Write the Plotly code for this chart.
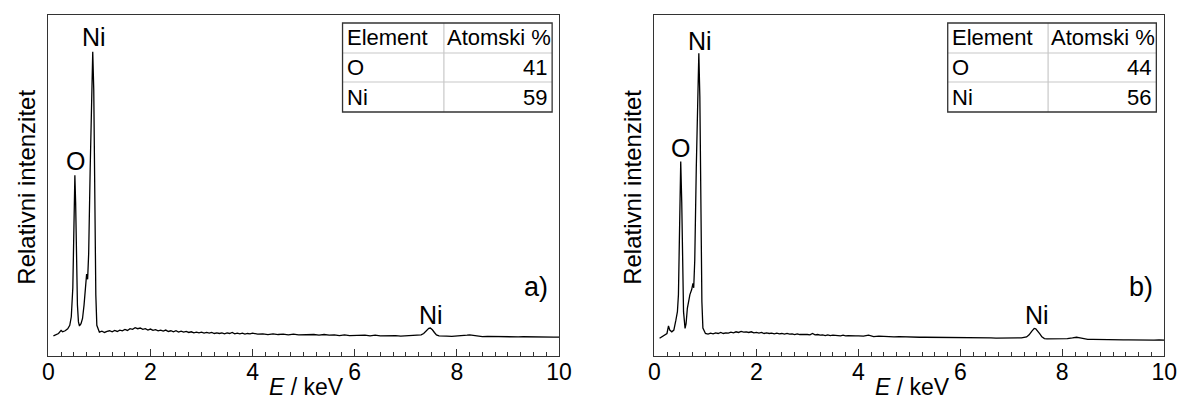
import plotly.graph_objects as go

# ---------------- data ----------------
energy_a = [0.10, 0.15, 0.20, 0.25, 0.28, 0.33, 0.38, 0.42, 0.45, 0.48, 0.50, 0.52, 0.535, 0.55, 0.57,
            0.59, 0.61, 0.64, 0.67, 0.70, 0.73, 0.75, 0.77, 0.79, 0.82, 0.85, 0.87, 0.89, 0.91, 0.93,
            0.95, 0.98,
            1.00, 1.05, 1.10, 1.15, 1.20, 1.25, 1.30, 1.35, 1.40, 1.45, 1.50, 1.55, 1.60, 1.65, 1.70,
            1.75, 1.80, 1.85, 1.90, 1.95, 2.00, 2.05, 2.10, 2.15, 2.20, 2.25, 2.30, 2.35, 2.40, 2.45,
            2.50, 2.55, 2.60, 2.65, 2.70, 2.75, 2.80, 2.85, 2.90, 2.95, 3.00, 3.05, 3.10, 3.15, 3.20,
            3.25, 3.30, 3.35, 3.40, 3.45, 3.50, 3.55, 3.60, 3.65, 3.70, 3.75, 3.80, 3.85, 3.90, 3.95,
            4.00, 4.1, 4.2, 4.3, 4.4, 4.5, 4.6, 4.7, 4.8, 4.9, 5.0, 5.1, 5.2, 5.3, 5.4, 5.5, 5.6, 5.7,
            5.8, 5.9, 6.0, 6.1, 6.2, 6.3, 6.4, 6.5, 6.6, 6.7, 6.8, 6.9, 7.0, 7.1, 7.2, 7.3, 7.35, 7.40,
            7.45, 7.48, 7.52, 7.56, 7.60, 7.65, 7.7, 7.8, 7.9, 8.0, 8.1, 8.2, 8.25, 8.3, 8.4, 8.5, 8.6,
            8.7, 8.8, 8.9, 9.0, 9.1, 9.2, 9.3, 9.4, 9.5, 9.6, 9.7, 9.8, 9.9, 10.0]
intensity_a = [5.9, 6.3, 6.6, 7.5, 7.1, 7.4, 8.0, 9.0, 11.5, 20.0, 38.0, 53.0, 45.0, 28.0, 15.0,
               10.0, 8.8, 9.5, 11.0, 15.0, 22.0, 24.0, 22.5, 30.0, 55.0, 80.0, 89.2, 78.0, 45.0, 18.0,
               9.0, 7.3,
               7.0, 7.3, 6.9, 7.2, 7.4, 7.1, 7.5, 7.2, 7.6, 7.4, 7.8, 7.5, 8.0, 7.8, 8.3,
               8.0, 8.2, 7.8, 8.0, 7.6, 7.9, 7.5, 7.7, 7.4, 7.6, 7.3, 7.6, 7.2, 7.4, 7.1,
               7.4, 7.0, 7.3, 7.0, 7.2, 6.9, 7.1, 6.8, 7.0, 6.8, 7.0, 6.7, 6.9, 6.7, 6.9,
               6.6, 6.8, 6.6, 6.8, 6.5, 6.8, 6.6, 6.9, 6.5, 6.7, 6.5, 6.7, 6.4, 6.6, 6.5,
               6.7, 6.4, 6.5, 6.3, 6.5, 6.3, 6.4, 6.2, 6.4, 6.2, 6.3, 6.2, 6.3, 6.1, 6.3, 6.1, 6.2, 6.0,
               6.2, 6.0, 6.1, 6.0, 6.1, 5.9, 6.1, 5.9, 6.0, 5.9, 6.0, 5.8, 5.9, 5.9, 6.0, 6.2, 6.6, 7.4,
               8.1, 8.2, 7.7, 6.9, 6.2, 5.9, 5.8, 5.8, 5.75, 5.8, 5.9, 6.1, 6.2, 6.1, 5.85, 5.7, 5.75,
               5.7, 5.7, 5.65, 5.7, 5.65, 5.6, 5.65, 5.6, 5.6, 5.6, 5.55, 5.6, 5.55, 5.55]

energy_b = [0.10, 0.15, 0.20, 0.245, 0.275, 0.30, 0.34, 0.38, 0.42, 0.45, 0.47, 0.49, 0.515, 0.535,
            0.55, 0.57, 0.60, 0.62, 0.645, 0.67, 0.695, 0.73, 0.755, 0.77, 0.79, 0.82, 0.85, 0.87,
            0.89, 0.91, 0.93, 0.95, 0.98,
            1.00, 1.05, 1.10, 1.15, 1.20, 1.25, 1.30, 1.35, 1.40, 1.45, 1.50, 1.55, 1.60, 1.65, 1.70,
            1.75, 1.80, 1.85, 1.90, 1.95, 2.00, 2.05, 2.10, 2.15, 2.20, 2.25, 2.30, 2.35, 2.40, 2.45,
            2.50, 2.55, 2.60, 2.65, 2.70, 2.75, 2.80, 2.85, 2.90, 2.95, 3.00, 3.05, 3.10, 3.15, 3.20,
            3.25, 3.30, 3.35, 3.40, 3.45, 3.50, 3.55, 3.60, 3.65, 3.70, 3.75, 3.80, 3.85, 3.90, 3.95,
            4.00, 4.1, 4.2, 4.3, 4.4, 4.5, 4.6, 4.7, 4.8, 4.9, 5.0, 5.1, 5.2, 5.3, 5.4, 5.5, 5.6, 5.7,
            5.8, 5.9, 6.0, 6.1, 6.2, 6.3, 6.4, 6.5, 6.6, 6.7, 6.8, 6.9, 7.0, 7.1, 7.2, 7.3, 7.35, 7.40,
            7.45, 7.48, 7.52, 7.56, 7.60, 7.65, 7.7, 7.8, 7.9, 8.0, 8.1, 8.2, 8.28, 8.35, 8.4, 8.5, 8.6,
            8.7, 8.8, 8.9, 9.0, 9.1, 9.2, 9.3, 9.4, 9.5, 9.6, 9.7, 9.8, 9.9, 10.0]
intensity_b = [5.2, 5.6, 6.0, 6.6, 8.8, 7.6, 7.1, 7.6, 10.5, 13.0, 18.0, 32.0, 57.0, 45.0,
               25.0, 13.0, 8.1, 9.5, 14.0, 16.0, 18.0, 19.5, 21.3, 20.0, 28.0, 55.0, 80.0, 88.8,
               76.0, 42.0, 16.0, 8.2, 6.9,
               6.6, 6.4, 6.7, 6.5, 6.8, 6.6, 6.9, 6.6, 6.8, 6.7, 7.0, 6.8, 7.1, 6.9, 7.2,
               7.0, 7.1, 6.9, 7.1, 6.8, 6.9, 6.7, 6.9, 6.6, 6.8, 6.6, 6.7, 6.5, 6.7, 6.5,
               6.6, 6.4, 6.6, 6.4, 6.5, 6.3, 6.5, 6.3, 6.4, 6.3, 6.3, 6.2, 6.6, 6.2, 6.3,
               6.1, 6.2, 6.0, 6.2, 6.0, 6.1, 6.0, 6.1, 5.9, 6.1, 5.9, 6.0, 5.9, 6.0, 5.9,
               5.9, 5.8, 6.1, 5.7, 5.8, 5.7, 5.7, 5.6, 5.7, 5.6, 5.6, 5.6, 5.5, 5.5, 5.5, 5.4, 5.5, 5.4,
               5.4, 5.4, 5.35, 5.4, 5.3, 5.35, 5.3, 5.3, 5.3, 5.25, 5.3, 5.25, 5.25, 5.25, 5.3, 5.6, 6.2, 7.2,
               8.1, 8.0, 7.4, 6.5, 5.6, 5.1, 5.0, 5.0, 4.95, 5.0, 5.1, 5.3, 5.5, 5.3, 5.1, 4.9, 4.85,
               4.8, 4.8, 4.75, 4.8, 4.75, 4.7, 4.75, 4.7, 4.7, 4.7, 4.7, 4.65, 4.7, 4.65]

table_header = ["Element", "Atomski %"]
table_elements = ["O", "Ni"]
atomic_pct_a = [41, 59]
atomic_pct_b = [44, 56]

peak_labels = ["O", "Ni", "Ni"]
peak_label_x_a = [0.53, 0.90, 7.50]
peak_label_y_a = [57.2, 93.5, 12.0]
peak_label_x_b = [0.52, 0.89, 7.50]
peak_label_y_b = [61.0, 92.4, 12.0]
panel_names = ["a)", "b)"]

# ---------------- layout helpers ----------------
W, H = 1190, 401
FONT = "Arial, Liberation Sans, Helvetica, sans-serif"


def px(x):
    return x / W


def py(y):
    return 1 - y / H


panels = [
    dict(xa="x", ya="y", xl=43, xr=562, E=energy_a, I=intensity_a, pct=atomic_pct_a,
         lx=peak_label_x_a, ly=peak_label_y_a, name=panel_names[0], tab=(342, 445, 555)),
    dict(xa="x2", ya="y2", xl=659, xr=1177, E=energy_b, I=intensity_b, pct=atomic_pct_b,
         lx=peak_label_x_b, ly=peak_label_y_b, name=panel_names[1], tab=(957, 1059, 1169)),
]
TOP, BOT = 15, 356

fig = go.Figure()
annotations = []
shapes = []

for i, p in enumerate(panels):
    fig.add_trace(go.Scatter(x=p["E"], y=p["I"], mode="lines", xaxis=p["xa"], yaxis=p["ya"],
                             line=dict(color="black", width=1.3), showlegend=False,
                             hoverinfo="skip"))
    sfx = "" if i == 0 else "2"
    xaxis = dict(domain=[px(p["xl"]), px(p["xr"])], range=[0, 10], dtick=2, tick0=0,
                 ticks="inside", ticklen=7, tickwidth=1, tickcolor="#333",
                 showline=True, linecolor="#333", linewidth=1.3, mirror=True,
                 showgrid=False, zeroline=False, anchor="y" + sfx, ticklabelstandoff=-5,
                 tickfont=dict(family=FONT, size=23, color="black"),
                 minor=dict(dtick=0.25, ticks="inside", ticklen=4, tickcolor="#333", showgrid=False))
    yaxis = dict(domain=[py(BOT), py(TOP)], range=[0, 100], showticklabels=False, ticks="",
                 showline=True, linecolor="#333", linewidth=1.3, mirror=True,
                 showgrid=False, zeroline=False, anchor="x" + sfx)
    fig.update_layout(**{"xaxis" + sfx: xaxis, "yaxis" + sfx: yaxis})

    # peak labels
    for t, x, y in zip(peak_labels, p["lx"], p["ly"]):
        annotations.append(dict(text=t, x=x, y=y, xref=p["xa"], yref=p["ya"], showarrow=False,
                                font=dict(family=FONT, size=25, color="black"),
                                xanchor="center", yanchor="middle"))
    annotations.append(dict(text=p["name"], x=9.55, y=20.2, xref=p["xa"], yref=p["ya"],
                            showarrow=False, font=dict(family=FONT, size=27, color="black"),
                            xanchor="center", yanchor="middle"))
    # axis titles
    annotations.append(dict(text="<i>E</i> / keV", x=px((p["xl"] + p["xr"]) / 2 + 3), y=py(387),
                            xref="paper", yref="paper", showarrow=False,
                            font=dict(family=FONT, size=23, color="black"),
                            xanchor="center", yanchor="middle"))
    annotations.append(dict(text="Relativni intenzitet", x=px(p["xl"] - 22), y=py(187),
                            xref="paper", yref="paper", showarrow=False, textangle=-90,
                            font=dict(family=FONT, size=24, color="black"),
                            xanchor="center", yanchor="middle"))

    # table
    tx0, tsep, tx1 = p["tab"]
    rows = [23, 53, 82, 112]
    for r in rows[1:-1]:
        shapes.append(dict(type="line", xref="paper", yref="paper", x0=px(tx0), x1=px(tx1),
                           y0=py(r), y1=py(r), line=dict(color="#c8c8c8", width=1.2)))
    shapes.append(dict(type="line", xref="paper", yref="paper", x0=px(tsep), x1=px(tsep),
                       y0=py(rows[0]), y1=py(rows[-1]), line=dict(color="#c8c8c8", width=1.2)))
    shapes.append(dict(type="rect", xref="paper", yref="paper", x0=px(tx0), x1=px(tx1),
                       y0=py(rows[-1]), y1=py(rows[0]), line=dict(color="#333", width=1.3),
                       fillcolor="rgba(0,0,0,0)"))
    for j, txt in enumerate(table_header):
        xx = tx0 + 2 if j == 0 else tsep + 1
        annotations.append(dict(text=txt, x=px(xx), y=py((rows[0] + rows[1]) / 2),
                                xref="paper", yref="paper", showarrow=False,
                                font=dict(family=FONT, size=22, color="black"),
                                xanchor="left", yanchor="middle"))
    for k, (el, val) in enumerate(zip(table_elements, p["pct"])):
        yc = (rows[k + 1] + rows[k + 2]) / 2
        annotations.append(dict(text=el, x=px(tx0 + 2), y=py(yc), xref="paper", yref="paper",
                                showarrow=False, font=dict(family=FONT, size=22, color="black"),
                                xanchor="left", yanchor="middle"))
        annotations.append(dict(text=str(val), x=px(tx1 - 3), y=py(yc), xref="paper",
                                yref="paper", showarrow=False,
                                font=dict(family=FONT, size=22, color="black"),
                                xanchor="right", yanchor="middle"))

fig.update_layout(width=W, height=H, margin=dict(l=0, r=0, t=0, b=0),
                  paper_bgcolor="white", plot_bgcolor="white",
                  annotations=annotations, shapes=shapes,
                  font=dict(family=FONT, color="black"))

fig.write_html("out.html", config={"displayModeBar": False},
               post_script="document.body.style.margin='0';document.body.style.overflow='hidden';")
